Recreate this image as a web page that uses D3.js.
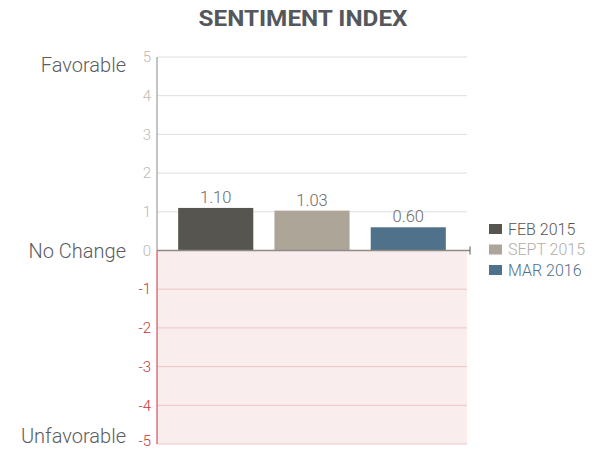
<!DOCTYPE html>
<html><head><meta charset="utf-8">
<script src="https://cdn.jsdelivr.net/npm/d3@7"></script>
<style>body{margin:0;background:#fff}svg{display:block}</style>
</head><body>
<svg id="c" width="602" height="450"></svg>
<script>
const categories = ["FEB 2015", "SEPT 2015", "MAR 2016"];
const values = [1.10, 1.03, 0.60];
const valueLabels = ["1.10", "1.03", "0.60"];
const ticks = [5, 4, 3, 2, 1, 0, -1, -2, -3, -4, -5];
const sideLabels = [{v: 4.8, t: "Favorable"}, {v: 0, t: "No Change"}, {v: -4.8, t: "Unfavorable"}];
const colors = ["#57554f", "#aca598", "#4f7189"];
const legendTextColors = ["#57554f", "#b3aea6", "#4f7189"];

const svg = d3.select("#c");
const font = "Roboto, 'Liberation Sans', sans-serif";
const x0 = 157, x1 = 467;
const y = d3.scaleLinear().domain([-5, 5]).range([444, 57]);
const x = d3.scaleBand().domain(categories).range([x0, x1]).paddingInner(0.22).paddingOuter(0.22);

svg.append("text").attr("x", 303).attr("y", 26).attr("text-anchor", "middle")
  .attr("font-family", font).attr("font-weight", "bold").attr("font-size", 22)
  .attr("textLength", 209).attr("lengthAdjust", "spacingAndGlyphs")
  .attr("fill", "#54575c").text("SENTIMENT INDEX");

// negative background
svg.append("rect").attr("x", x0).attr("y", y(0)).attr("width", x1 - x0).attr("height", y(-5) - y(0)).attr("fill", "#f9eded");

// gridlines
svg.append("g").selectAll("line").data(ticks.filter(t => t !== 0)).join("line")
  .attr("x1", x0).attr("x2", x1).attr("y1", d => y(d)).attr("y2", d => y(d))
  .attr("stroke", d => d > 0 ? "#dedede" : "#efc4c6").attr("stroke-width", 1);

// tick labels
svg.append("g").selectAll("text").data(ticks).join("text")
  .attr("x", 151).attr("y", d => Math.min(y(d), 441)).attr("dy", "0.35em").attr("text-anchor", "end")
  .attr("font-family", font).attr("font-weight", 300).attr("font-size", 15)
  .attr("fill", d => d >= 0 ? "#bdb8b0" : "#c8343c").text(d => d);

// axis lines
svg.append("line").attr("x1", x0).attr("x2", x0).attr("y1", y(5)).attr("y2", y(0)).attr("stroke", "#8a8a8a");
svg.append("line").attr("x1", x0).attr("x2", x0).attr("y1", y(0)).attr("y2", y(-5)).attr("stroke", "#c8343c");

// bars
svg.append("g").selectAll("rect").data(values).join("rect")
  .attr("x", (d, i) => x(categories[i])).attr("width", x.bandwidth())
  .attr("y", d => y(d)).attr("height", d => y(0) - y(d)).attr("fill", (d, i) => colors[i]);

svg.append("g").selectAll("text").data(values).join("text")
  .attr("x", (d, i) => x(categories[i]) + x.bandwidth() / 2).attr("y", d => y(d) - 5)
  .attr("text-anchor", "middle").attr("font-family", font).attr("font-weight", 300)
  .attr("font-size", 16.5).attr("fill", "#6b6b6b").text((d, i) => valueLabels[i]);

// zero line
svg.append("line").attr("x1", x0).attr("x2", x1 + 3).attr("y1", y(0)).attr("y2", y(0)).attr("stroke", "#8f8c88").attr("stroke-width", 1.5);
svg.append("line").attr("x1", x1 + 3).attr("x2", x1 + 3).attr("y1", y(0) - 4).attr("y2", y(0) + 4).attr("stroke", "#555").attr("stroke-width", 1);

// side labels
svg.append("g").selectAll("text").data(sideLabels).join("text")
  .attr("x", 126).attr("y", d => y(d.v)).attr("dy", "0.35em").attr("text-anchor", "end")
  .attr("font-family", font).attr("font-weight", 300).attr("font-size", 20).attr("fill", "#5a5c60").text(d => d.t);

// legend
const lg = svg.append("g").selectAll("g").data(categories).join("g")
  .attr("transform", (d, i) => `translate(489, ${229 + i * 20.5})`);
lg.append("rect").attr("x", 0).attr("y", -5).attr("width", 13).attr("height", 10).attr("fill", (d, i) => colors[i]);
lg.append("text").attr("x", 19).attr("y", 0).attr("dy", "0.35em").attr("font-family", font).attr("font-weight", 300)
  .attr("font-size", 16).attr("fill", (d, i) => legendTextColors[i]).text(d => d);
</script>
</body></html>
